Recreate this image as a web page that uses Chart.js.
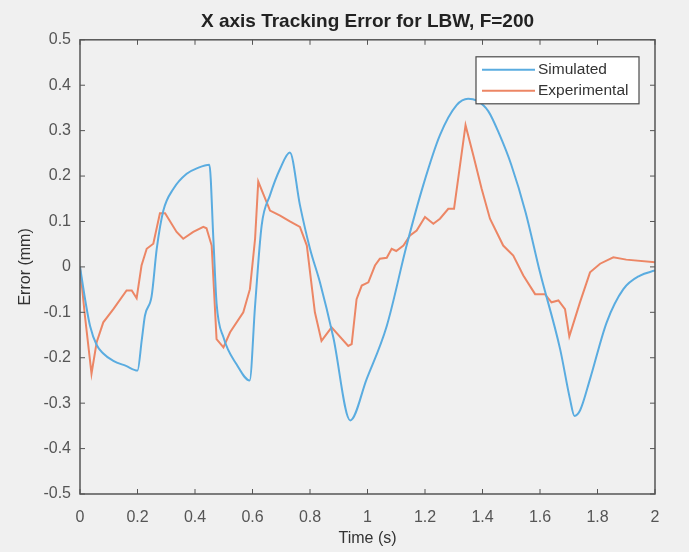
<!DOCTYPE html>
<html>
<head>
<meta charset="utf-8">
<script src="https://cdn.jsdelivr.net/npm/chart.js@4"></script>
<style>
  html, body { margin: 0; padding: 0; background: #f0f0f0; }
  #wrap { width: 689px; height: 552px; }
</style>
</head>
<body>
<div id="wrap"><canvas id="errChart" width="689" height="552"></canvas></div>
<script>
// simulated tracking error (time s, error mm)
const simTime = [0, 0.02, 0.035, 0.058, 0.08, 0.116, 0.16, 0.2, 0.215, 0.226, 0.249, 0.267, 0.29, 0.325, 0.371, 0.41, 0.45,
  0.464, 0.475, 0.499, 0.545, 0.59, 0.609, 0.632, 0.661, 0.696, 0.73, 0.765, 0.8, 0.835, 0.881, 0.94,
  0.997, 1.067, 1.136, 1.194, 1.252, 1.31, 1.35, 1.38, 1.42, 1.46, 1.5, 1.55, 1.6, 1.67, 1.704, 1.72,
  1.74, 1.774, 1.832, 1.89, 1.948, 2.0];
const simError = [0, -0.08, -0.13, -0.172, -0.19, -0.207, -0.218, -0.228, -0.16, -0.107, -0.065, 0.04, 0.124, 0.172, 0.205, 0.218, 0.225,
  0.06, -0.08, -0.155, -0.215, -0.25, -0.085, 0.092, 0.158, 0.216, 0.252, 0.136, 0.04, -0.035, -0.155, -0.338,
  -0.247, -0.13, 0.047, 0.18, 0.29, 0.356, 0.37, 0.366, 0.343, 0.29, 0.225, 0.12, -0.012, -0.181, -0.29, -0.328,
  -0.315, -0.247, -0.122, -0.049, -0.019, -0.008];

// experimental tracking error
const expTime = [0, 0.017, 0.04, 0.058, 0.081, 0.116, 0.162, 0.18, 0.197, 0.214, 0.232, 0.255, 0.278, 0.296, 0.336, 0.359,
  0.394, 0.429, 0.44, 0.458, 0.475, 0.499, 0.522, 0.568, 0.591, 0.609, 0.62, 0.661, 0.696, 0.73, 0.765,
  0.789, 0.817, 0.84, 0.875, 0.933, 0.945, 0.962, 0.98, 1.003, 1.026, 1.043, 1.067, 1.084, 1.1, 1.125,
  1.148, 1.171, 1.2, 1.229, 1.252, 1.281, 1.301, 1.341, 1.368, 1.397, 1.426, 1.472, 1.507, 1.542, 1.583,
  1.617, 1.64, 1.664, 1.687, 1.702, 1.739, 1.774, 1.809, 1.855, 1.9, 2.0];
const expError = [0, -0.107, -0.235, -0.166, -0.122, -0.093, -0.052, -0.052, -0.069, 0.003, 0.04, 0.051, 0.118, 0.118, 0.077, 0.062,
  0.077, 0.088, 0.085, 0.047, -0.159, -0.177, -0.144, -0.1, -0.049, 0.062, 0.188, 0.124, 0.113, 0.1, 0.088,
  0.047, -0.1, -0.163, -0.133, -0.174, -0.17, -0.071, -0.041, -0.034, 0.003, 0.018, 0.02, 0.04, 0.035, 0.047,
  0.069, 0.08, 0.11, 0.095, 0.106, 0.128, 0.128, 0.312, 0.246, 0.172, 0.106, 0.047, 0.025, -0.019, -0.06,
  -0.06, -0.078, -0.074, -0.093, -0.153, -0.078, -0.012, 0.007, 0.021, 0.016, 0.01];

const seriesNames = ['Simulated', 'Experimental'];
const titleText = 'X axis Tracking Error for LBW, F=200';
const xLabel = 'Time (s)';
const yLabel = 'Error (mm)';

const FONT = '"Liberation Sans", Arial, sans-serif';
const toPoints = (xs, ys) => xs.map((x, i) => ({ x: x, y: ys[i] }));
const fmt = v => String(Number(v.toFixed(1)));

// matlab style box with inward ticks on all four sides
const boxPlugin = {
  id: 'box',
  afterDatasetsDraw(chart) {
    const { ctx, chartArea: a, scales } = chart;
    ctx.save();
    ctx.strokeStyle = '#555555';
    ctx.lineWidth = 1.5;
    ctx.strokeRect(a.left, a.top, a.right - a.left, a.bottom - a.top);
    ctx.lineWidth = 1;
    ctx.beginPath();
    scales.x.ticks.forEach((t, i) => {
      const px = scales.x.getPixelForTick(i);
      ctx.moveTo(px, a.bottom); ctx.lineTo(px, a.bottom - 5);
      ctx.moveTo(px, a.top); ctx.lineTo(px, a.top + 5);
    });
    scales.y.ticks.forEach((t, i) => {
      const py = scales.y.getPixelForTick(i);
      ctx.moveTo(a.left, py); ctx.lineTo(a.left + 5, py);
      ctx.moveTo(a.right, py); ctx.lineTo(a.right - 5, py);
    });
    ctx.stroke();
    ctx.restore();
  }
};

// legend box inside top-right corner
const legendPlugin = {
  id: 'insideLegend',
  afterDraw(chart) {
    const { ctx, chartArea: a } = chart;
    const w = 163, h = 47;
    const x0 = a.right - 16 - w, y0 = a.top + 17;
    ctx.save();
    ctx.fillStyle = '#ffffff';
    ctx.fillRect(x0, y0, w, h);
    ctx.strokeStyle = '#4a4a4a';
    ctx.lineWidth = 1.2;
    ctx.strokeRect(x0, y0, w, h);
    ctx.font = '15.5px ' + FONT;
    ctx.textBaseline = 'middle';
    chart.data.datasets.forEach((ds, i) => {
      const yy = y0 + 13 + i * 21;
      ctx.strokeStyle = ds.borderColor;
      ctx.lineWidth = ds.borderWidth;
      ctx.beginPath();
      ctx.moveTo(x0 + 6, yy); ctx.lineTo(x0 + 59, yy);
      ctx.stroke();
      ctx.fillStyle = '#333333';
      ctx.fillText(ds.label, x0 + 62, yy);
    });
    ctx.restore();
  }
};

new Chart(document.getElementById('errChart').getContext('2d'), {
  type: 'line',
  data: {
    datasets: [{
      label: seriesNames[0],
      data: toPoints(simTime, simError),
      borderColor: '#5aace0',
      borderWidth: 2,
      pointRadius: 0,
      cubicInterpolationMode: 'monotone',
    }, {
      label: seriesNames[1],
      data: toPoints(expTime, expError),
      borderColor: '#ec8665',
      borderWidth: 2,
      pointRadius: 0,
      tension: 0,
    }],
  },
  options: {
    responsive: false,
    animation: false,
    layout: { padding: { left: 0, right: 34, top: 0, bottom: 0 } },
    plugins: {
      legend: { display: false },
      tooltip: { enabled: false },
      title: {
        display: true,
        fullSize: false,
        text: titleText,
        color: '#222222',
        font: { family: FONT, size: 19, weight: 'bold' },
        padding: { top: 10, bottom: 7 },
      },
    },
    scales: {
      x: {
        type: 'linear',
        min: 0, max: 2,
        grid: { display: false },
        border: { display: false },
        ticks: {
          stepSize: 0.2,
          color: '#555555',
          padding: 6,
          maxRotation: 0,
          font: { family: FONT, size: 16 },
          callback: v => fmt(v),
        },
        title: {
          display: true,
          text: xLabel,
          color: '#333333',
          padding: { top: 3 },
          font: { family: FONT, size: 16 },
        },
        afterFit: s => { s.height = 58; },
      },
      y: {
        min: -0.5, max: 0.5,
        grid: { display: false },
        border: { display: false },
        ticks: {
          stepSize: 0.1,
          color: '#555555',
          padding: 1,
          font: { family: FONT, size: 16 },
          callback: v => fmt(v),
        },
        title: {
          display: true,
          text: yLabel,
          color: '#333333',
          padding: { top: 16, bottom: 0 },
          font: { family: FONT, size: 16 },
        },
        afterFit: s => { s.width = 80; },
      },
    },
  },
  plugins: [boxPlugin, legendPlugin],
});
</script>
</body>
</html>
